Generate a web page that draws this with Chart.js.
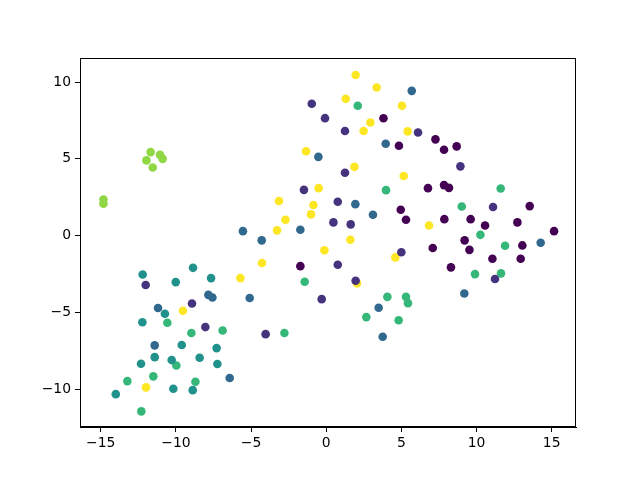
<!DOCTYPE html>
<html>
<head>
<meta charset="utf-8">
<script src="https://cdn.jsdelivr.net/npm/chart.js@4.4.1/dist/chart.umd.min.js"></script>
<style>
  html, body { margin: 0; padding: 0; background: #fff; }
  #contenedor { width: 640px; height: 480px; }
</style>
</head>
<body>
<div id="contenedor"><canvas id="grafica" width="640" height="480"></canvas></div>
<script>
// Puntos por clase (x, y)
const clase0 = [[3.81,7.64],[4.84,5.85],[7.27,6.27],[7.84,5.59],[8.68,5.81],[4.96,1.68],[5.31,1.03],[-1.72,-1.99],
  [6.77,3.09],[7.84,3.29],[8.17,3.11],[13.54,1.92],[7.86,1.07],[9.61,1.07],[10.57,0.66],[12.72,0.86],[15.16,0.29],
  [9.21,-0.31],[7.09,-0.81],[9.53,-0.93],[13.05,-0.64],[11.06,-1.51],[12.94,-1.51],[8.30,-2.07]];
const clase1 = [[-0.96,8.59],[-0.08,7.65],[1.25,6.81],[6.11,6.72],[1.25,4.09],[8.93,4.51],[-1.48,2.98],[0.77,2.20],
  [0.48,0.86],[1.63,0.73],[5.00,-1.09],[0.77,-1.90],[1.96,-2.94],[-0.30,-4.14],[11.10,1.86],[11.23,-2.83],
  [-12.01,-3.22],[-8.93,-4.42],[-8.04,-5.96],[-4.03,-6.42]];
const clase2 = [[5.69,9.43],[3.96,5.98],[-0.52,5.13],[1.94,2.05],[3.11,1.36],[-1.72,0.38],[-4.29,-0.31],[-5.54,0.29],
  [14.27,-0.47],[9.19,-3.77],[-7.84,-3.86],[-7.57,-4.03],[-5.09,-4.07],[-11.19,-4.72],[-11.41,-7.15],[-6.42,-9.28],
  [3.49,-4.70],[3.76,-6.59]];
const clase3 = [[-12.21,-2.53],[-8.86,-2.10],[-10.01,-3.03],[-7.66,-2.77],[-10.73,-5.09],[-12.23,-5.65],[-9.61,-7.13],
  [-7.29,-7.33],[-11.41,-7.92],[-12.32,-8.35],[-10.28,-8.11],[-8.42,-7.96],[-7.24,-8.37],[-10.17,-9.98],[-8.88,-10.07],
  [-14.0,-10.33]];
const clase4 = [[2.10,8.46],[3.98,2.96],[-1.43,-3.01],[4.07,-3.99],[5.31,-3.99],[5.44,-4.40],[11.61,3.07],[9.02,1.90],
  [10.26,0.05],[11.90,-0.66],[9.90,-2.51],[11.63,-2.46],[2.67,-5.31],[4.82,-5.52],[-2.78,-6.35],[-10.57,-5.68],
  [-8.97,-6.35],[-6.89,-6.18],[-9.97,-8.46],[-11.50,-9.17],[-13.23,-9.48],[-8.70,-9.52],[-12.30,-11.45]];
const clase5 = [[-11.68,5.44],[-11.06,5.26],[-10.88,5.0],[-11.96,4.9],[-11.54,4.44],[-14.82,2.35],[-14.82,2.08]];
const clase6 = [[1.96,10.46],[3.36,9.65],[1.30,8.91],[5.04,8.46],[2.94,7.37],[2.49,6.81],[5.42,6.79],[-1.34,5.49],
  [1.88,4.48],[5.16,3.88],[-0.50,3.09],[-3.14,2.25],[-0.85,1.99],[-1.01,1.38],[-2.71,1.03],[-3.27,0.34],[1.61,-0.27],
  [-0.12,-0.96],[6.84,0.66],[4.60,-1.42],[-4.27,-1.79],[-5.71,-2.77],[2.05,-3.11],[-9.53,-4.90],[-11.99,-9.89]];

const clases = [clase0, clase1, clase2, clase3, clase4, clase5, clase6];
const colores = ["#440154", "#46337e", "#31688e", "#21918c", "#35b779", "#8fd744", "#fde725"];
const ticksX = [-15, -10, -5, 0, 5, 10, 15];
const ticksY = [-10, -5, 0, 5, 10];

const datasets = clases.map((puntos, i) => ({
  label: "clase " + i,
  data: puntos.map((p) => ({ x: p[0], y: p[1] })),
  backgroundColor: colores[i],
  borderWidth: 0,
  pointRadius: 4.3,
  pointHoverRadius: 4.3,
}));

// marco negro alrededor del area de la grafica
const marco = {
  id: "marco",
  afterDraw(chart) {
    const { ctx, chartArea: a } = chart;
    ctx.save();
    ctx.strokeStyle = "#000";
    ctx.lineWidth = 1;
    ctx.strokeRect(a.left + 0.5, a.top + 0.5, a.right - a.left - 1, a.bottom - a.top - 1);
    ctx.restore();
  },
};

const fuente = { family: "'DejaVu Sans'", size: 13.9 };
const menos = (v) => (v < 0 ? "\u2212" + Math.abs(v) : "" + v);

new Chart(document.getElementById("grafica"), {
  type: "scatter",
  data: { datasets: datasets },
  plugins: [marco],
  options: {
    responsive: false,
    animation: false,
    events: [],
    layout: { padding: { left: 0, right: 64, top: 58, bottom: 0 } },
    plugins: { legend: { display: false }, tooltip: { enabled: false } },
    scales: {
      x: {
        min: -16.38,
        max: 16.62,
        afterBuildTicks: (eje) => { eje.ticks = ticksX.map((v) => ({ value: v })); },
        afterFit: (eje) => { eje.height = 53; },
        ticks: { color: "#000", font: fuente, padding: 3, maxRotation: 0, callback: menos },
        grid: { drawOnChartArea: false, drawTicks: true, tickLength: 5, color: "#000" },
        border: { display: true, color: "#000" },
      },
      y: {
        min: -12.47,
        max: 11.57,
        afterBuildTicks: (eje) => { eje.ticks = ticksY.map((v) => ({ value: v })); },
        afterFit: (eje) => { eje.width = 80; },
        ticks: { color: "#000", font: fuente, padding: 4, callback: menos },
        grid: { drawOnChartArea: false, drawTicks: true, tickLength: 5, color: "#000" },
        border: { display: true, color: "#000" },
      },
    },
  },
});
</script>
</body>
</html>
